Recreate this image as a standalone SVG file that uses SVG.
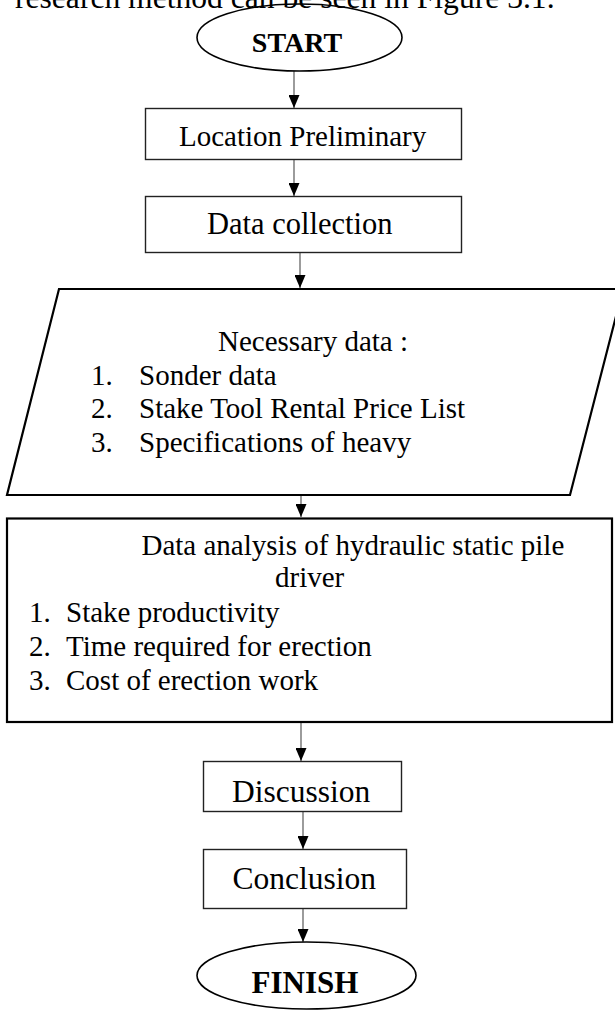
<svg xmlns="http://www.w3.org/2000/svg" width="615" height="1010" viewBox="0 0 615 1010">
<style>
.t{font-family:"Liberation Serif","Times New Roman",serif;fill:#000}
.b{font-weight:bold}
.box{fill:#fff;stroke:#222;stroke-width:1.4}
.big{fill:#fff;stroke:#000;stroke-width:2.2}
.term{fill:none;stroke:#000;stroke-width:1.6}
.con{stroke:#666;stroke-width:1.3;fill:none}
</style>
<defs>
<marker id="ah" markerUnits="userSpaceOnUse" markerWidth="13" markerHeight="11" refX="13" refY="5.5" orient="auto">
<path d="M0,0 L13,5.5 L0,11 z" fill="#000"/>
</marker>
</defs>
<rect width="615" height="1010" fill="#fff"/>

<g id="connectors">
<line class="con" x1="294" y1="71" x2="294" y2="108" marker-end="url(#ah)"/>
<line class="con" x1="294" y1="159" x2="294" y2="196" marker-end="url(#ah)"/>
<line class="con" x1="300" y1="252" x2="300" y2="288" marker-end="url(#ah)"/>
<line class="con" x1="301" y1="496" x2="301" y2="517" marker-end="url(#ah)"/>
<line class="con" x1="301" y1="723" x2="301" y2="761" marker-end="url(#ah)"/>
<line class="con" x1="303" y1="812" x2="303" y2="849" marker-end="url(#ah)"/>
<line class="con" x1="303" y1="908" x2="303" y2="942" marker-end="url(#ah)"/>
</g>

<g id="start">
<ellipse class="term" cx="299.5" cy="37.5" rx="102.5" ry="33.5"/>
<text class="t b" x="297" y="52" font-size="28" text-anchor="middle">START</text>
</g>

<text class="t" x="15" y="7.5" font-size="31.6">research method can be seen in Figure 3.1.</text>

<g id="location">
<rect class="box" x="145.5" y="108.5" width="316" height="51"/>
<text class="t" x="179" y="146" font-size="29">Location Preliminary</text>
</g>

<g id="collection">
<rect class="box" x="145.5" y="196.5" width="316" height="56"/>
<text class="t" x="207" y="234" font-size="30.5">Data collection</text>
</g>

<g id="necessary">
<polygon class="big" points="59,289 623,289 570,495 7,495"/>
<text class="t" x="218" y="351" font-size="29">Necessary data :</text>
<text class="t" x="91" y="385" font-size="29">1.</text>
<text class="t" x="139" y="385" font-size="29">Sonder data</text>
<text class="t" x="91" y="418" font-size="29">2.</text>
<text class="t" x="139" y="418" font-size="29">Stake Tool Rental Price List</text>
<text class="t" x="91" y="452" font-size="29">3.</text>
<text class="t" x="139" y="452" font-size="29">Specifications of heavy</text>
</g>

<g id="analysis">
<rect class="big" x="7" y="518.5" width="605" height="203.5"/>
<text class="t" x="141.5" y="555" font-size="29">Data analysis of hydraulic static pile</text>
<text class="t" x="275" y="587" font-size="29">driver</text>
<text class="t" x="29" y="622" font-size="29">1.</text>
<text class="t" x="66" y="622" font-size="29">Stake productivity</text>
<text class="t" x="29" y="655.5" font-size="29">2.</text>
<text class="t" x="66" y="655.5" font-size="29">Time required for erection</text>
<text class="t" x="29" y="690" font-size="29">3.</text>
<text class="t" x="66" y="690" font-size="29">Cost of erection work</text>
</g>

<g id="discussion">
<rect class="box" x="203.5" y="761.5" width="198" height="50"/>
<text class="t" x="232" y="802" font-size="31.5">Discussion</text>
</g>

<g id="conclusion">
<rect class="box" x="203.5" y="849.5" width="203" height="59"/>
<text class="t" x="232.5" y="888.5" font-size="31.5">Conclusion</text>
</g>

<g id="finish">
<ellipse class="term" cx="306.5" cy="975.5" rx="109.5" ry="33.5"/>
<text class="t b" x="305" y="993" font-size="31" text-anchor="middle">FINISH</text>
</g>
</svg>
